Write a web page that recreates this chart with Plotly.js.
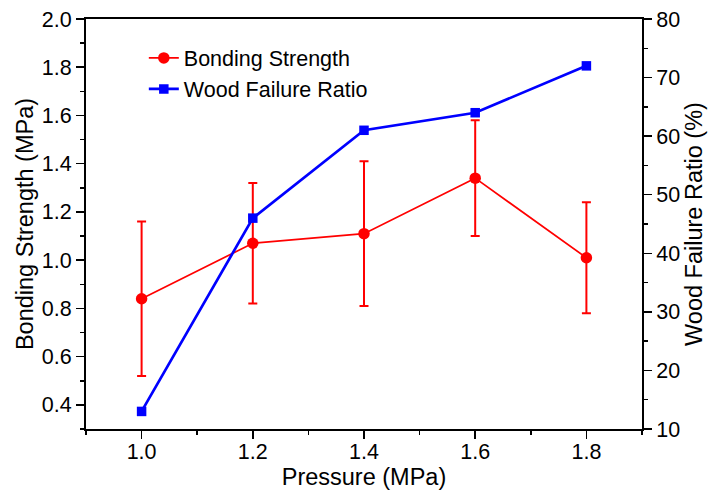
<!DOCTYPE html>
<html><head><meta charset="utf-8">
<script src="https://cdn.plot.ly/plotly-3.0.1.min.js"></script>
<style>html,body{margin:0;padding:0;background:#fff}</style>
</head><body>
<div id="chart" style="width:708px;height:490px"></div>
<script>
const pressure = [1.0, 1.2, 1.4, 1.6, 1.8];
const bondingStrength = [0.84, 1.07, 1.11, 1.34, 1.01];
const bondingError = [0.32, 0.25, 0.30, 0.24, 0.23];
const woodFailure = [13, 46, 61, 64, 72];
const seriesNames = ['Bonding Strength', 'Wood Failure Ratio'];

const FONT = 'Arial, "Liberation Sans", sans-serif';
const tickFont = {family: FONT, size: 21.5, color: '#000'};
const titleFont = {family: FONT, size: 23.5, color: '#000'};

const traces = [
  {
    x: pressure, y: bondingStrength, name: seriesNames[0], type: 'scatter', mode: 'lines+markers',
    line: {color: '#ff0000', width: 1.7},
    marker: {symbol: 'circle', size: 11.5, color: '#ff0000'},
    error_y: {type: 'data', array: bondingError, visible: true, color: '#ff0000', thickness: 2, width: 4.5},
    xaxis: 'x', yaxis: 'y'
  },
  {
    x: pressure, y: woodFailure, name: seriesNames[1], type: 'scatter', mode: 'lines+markers',
    line: {color: '#0000ff', width: 2.7},
    marker: {symbol: 'square', size: 9.5, color: '#0000ff'},
    xaxis: 'x', yaxis: 'y2'
  }
];

const axisCommon = {
  showline: true, linewidth: 2, linecolor: '#000',
  ticks: 'outside', ticklen: 8, tickwidth: 1.5, tickcolor: '#000',
  showgrid: false, zeroline: false, tickfont: tickFont
};

const layout = {
  width: 708, height: 490,
  margin: {l: 86, r: 66, t: 19, b: 61},
  paper_bgcolor: '#fff', plot_bgcolor: '#fff',
  showlegend: true,
  legend: {
    x: 0.104, y: 0.955, xanchor: 'left', yanchor: 'top',
    bgcolor: 'rgba(0,0,0,0)', borderwidth: 0,
    font: {family: FONT, size: 21.5, color: '#000'}
  },
  xaxis: Object.assign({}, axisCommon, {
    range: [0.9, 1.9], dtick: 0.2, tick0: 0, tickformat: '.1f', mirror: true,
    ticklabelstandoff: -6,
    minor: {dtick: 0.1, ticks: 'outside', ticklen: 4, tickwidth: 1.5, tickcolor: '#000', showgrid: false},
    title: {text: 'Pressure (MPa)', font: titleFont, standoff: 0}
  }),
  yaxis: Object.assign({}, axisCommon, {
    range: [0.3, 2.0], dtick: 0.2, tick0: 0, tickformat: '.1f', mirror: true,
    minor: {dtick: 0.1, ticks: 'outside', ticklen: 4, tickwidth: 1.5, tickcolor: '#000', showgrid: false},
    title: {text: 'Bonding Strength (MPa)', font: titleFont, standoff: 2}
  }),
  yaxis2: Object.assign({}, axisCommon, {
    overlaying: 'y', side: 'right', anchor: 'x',
    range: [10, 80], dtick: 10, tick0: 0,
    minor: {dtick: 5, ticks: 'outside', ticklen: 4, tickwidth: 1.5, tickcolor: '#000', showgrid: false},
    title: {text: 'Wood Failure Ratio (%)', font: titleFont, standoff: 6}
  })
};

Plotly.newPlot('chart', traces, layout, {displayModeBar: false, staticPlot: true});
</script>
</body></html>
